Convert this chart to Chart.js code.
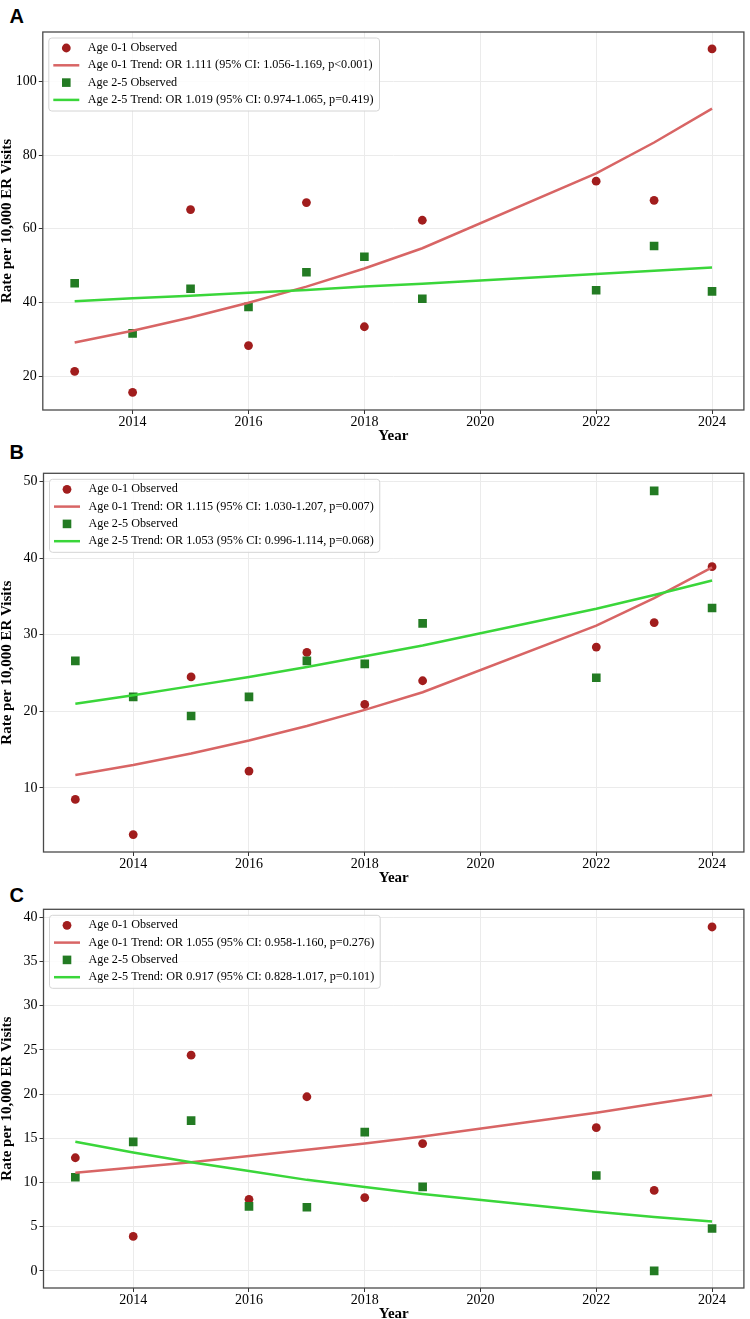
<!DOCTYPE html>
<html><head><meta charset="utf-8">
<script src="https://cdn.jsdelivr.net/npm/chart.js@4.4.1/dist/chart.umd.min.js"></script>
<style>
html,body{margin:0;padding:0;background:#fff;overflow:hidden;}
#wrap{position:relative;width:750px;height:1319px;overflow:hidden;}
canvas{position:absolute;left:0;}
.lbl{position:absolute;left:9.5px;font:bold 20px "Liberation Sans",Arial,sans-serif;line-height:20px;color:#000;}
</style></head><body>
<div id="wrap">
<div class="lbl" style="top:5.7px">A</div>
<div class="lbl" style="top:442.4px">B</div>
<div class="lbl" style="top:884.6px">C</div>
<canvas id="cA"></canvas>
<canvas id="cB"></canvas>
<canvas id="cC"></canvas>
</div>
<script>
// ---- data ----
const years = [2013, 2014, 2015, 2016, 2017, 2018, 2019, 2022, 2023, 2024];
const xTicks = [2014, 2016, 2018, 2020, 2022, 2024];
const obsLabel01 = 'Age 0-1 Observed';
const obsLabel25 = 'Age 2-5 Observed';
const yTitle = 'Rate per 10,000 ER Visits';
const xTitle = 'Year';

// Panel A
const aObs01 = [21.3, 15.6, 65.2, 28.3, 67.1, 33.4, 62.3, 72.9, 67.7, 108.8];
const aObs25 = [45.2, 31.6, 43.7, 38.8, 48.2, 52.4, 41.0, 43.3, 55.3, 43.0];
const aTrend01 = [29.1, 32.3, 35.9, 39.9, 44.3, 49.2, 54.7, 75.0, 83.4, 92.6];
const aTrend25 = [40.3, 41.1, 41.8, 42.6, 43.4, 44.3, 45.1, 47.7, 48.6, 49.5];
const aTrendLabel01 = 'Age 0-1 Trend: OR 1.111 (95% CI: 1.056-1.169, p<0.001)';
const aTrendLabel25 = 'Age 2-5 Trend: OR 1.019 (95% CI: 0.974-1.065, p=0.419)';
const aYTicks = [20, 40, 60, 80, 100];

// Panel B
const bObs01 = [8.5, 3.9, 24.5, 12.2, 27.7, 20.9, 24.0, 28.4, 31.6, 38.9];
const bObs25 = [26.6, 21.9, 19.4, 21.9, 26.6, 26.2, 31.5, 24.4, 48.8, 33.5];
const bTrend01 = [11.7, 13.0, 14.5, 16.2, 18.1, 20.2, 22.5, 31.2, 34.8, 38.8];
const bTrend25 = [21.0, 22.1, 23.3, 24.5, 25.8, 27.2, 28.6, 33.4, 35.2, 37.1];
const bTrendLabel01 = 'Age 0-1 Trend: OR 1.115 (95% CI: 1.030-1.207, p=0.007)';
const bTrendLabel25 = 'Age 2-5 Trend: OR 1.053 (95% CI: 0.996-1.114, p=0.068)';
const bYTicks = [10, 20, 30, 40, 50];

// Panel C
const cObs01 = [12.8, 3.9, 24.4, 8.1, 19.7, 8.3, 14.4, 16.2, 9.1, 38.9];
const cObs25 = [10.6, 14.6, 17.0, 7.3, 7.2, 15.7, 9.5, 10.8, 0.0, 4.8];
const cTrend01 = [11.1, 11.7, 12.3, 13.0, 13.7, 14.4, 15.2, 17.9, 18.9, 19.9];
const cTrend25 = [14.6, 13.4, 12.3, 11.3, 10.3, 9.5, 8.7, 6.7, 6.1, 5.6];
const cTrendLabel01 = 'Age 0-1 Trend: OR 1.055 (95% CI: 0.958-1.160, p=0.276)';
const cTrendLabel25 = 'Age 2-5 Trend: OR 0.917 (95% CI: 0.828-1.017, p=0.101)';
const cYTicks = [0, 5, 10, 15, 20, 25, 30, 35, 40];

// ---- styles ----
const COL_OBS01 = '#a11d1d';
const COL_TR01 = '#d86565';
const COL_OBS25 = '#237b23';
const COL_TR25 = '#3ad63a';
const SERIF = '"Liberation Serif", "Times New Roman", serif';

const pts = arr => years.map((y, i) => ({x: y, y: arr[i]}));

const insideLegend = {
  id: 'insideLegend',
  afterDatasetsDraw(chart) {
    const {ctx, chartArea: ca} = chart;
    ctx.save();
    ctx.strokeStyle = '#4a4a4a';
    ctx.lineWidth = 1.3;
    ctx.strokeRect(ca.left, ca.top, ca.right - ca.left, ca.bottom - ca.top);
    const order = chart.options.plugins.insideLegend.order;
    const ds = order.map(i => chart.data.datasets[i]);
    ctx.font = '12.2px ' + SERIF;
    const tx = ca.left + 45;
    const maxW = Math.max(...ds.map(d => ctx.measureText(d.label).width));
    const bx = ca.left + 6, by = ca.top + 6;
    const bw = tx + maxW + 6 - bx, bh = 73;
    ctx.beginPath();
    ctx.roundRect(bx, by, bw, bh, 3);
    ctx.fillStyle = 'rgba(255,255,255,0.85)';
    ctx.fill();
    ctx.strokeStyle = '#d4d4d4';
    ctx.lineWidth = 1;
    ctx.stroke();
    ds.forEach((d, k) => {
      const y = ca.top + 16 + k * 17.3;
      const mx = ca.left + 23.5;
      if (d.showLine === false) {
        ctx.fillStyle = d.backgroundColor;
        if (d.pointStyle === 'rect') {
          ctx.fillRect(mx - 4.3, y - 4.3, 8.6, 8.6);
        } else {
          ctx.beginPath();
          ctx.arc(mx, y, 4.4, 0, Math.PI * 2);
          ctx.fill();
        }
      } else {
        ctx.strokeStyle = d.borderColor;
        ctx.lineWidth = 2.5;
        ctx.beginPath();
        ctx.moveTo(ca.left + 10.5, y);
        ctx.lineTo(ca.left + 36.5, y);
        ctx.stroke();
      }
      ctx.fillStyle = '#000';
      ctx.textBaseline = 'middle';
      ctx.textAlign = 'left';
      ctx.fillText(d.label, tx, y);
    });
    ctx.restore();
  }
};

function makePanel(id, P) {
  const cv = document.getElementById(id);
  cv.width = 750; cv.height = P.height;
  cv.style.top = P.top + 'px';
  cv.style.width = '750px'; cv.style.height = P.height + 'px';
  const tickFont = {family: SERIF, size: 14, lineHeight: 1};
  const titleFont = {family: SERIF, size: 15, weight: 'bold'};
  new Chart(cv, {
    type: 'line',
    data: {
      datasets: [
        {label: obsLabel01, data: pts(P.obs01), showLine: false, pointStyle: 'circle', pointRadius: 4.4,
         backgroundColor: COL_OBS01, borderColor: COL_OBS01, borderWidth: 0, order: 3},
        {label: obsLabel25, data: pts(P.obs25), showLine: false, pointStyle: 'rect', pointRadius: 6.1,
         backgroundColor: COL_OBS25, borderColor: COL_OBS25, borderWidth: 0, order: 2},
        {label: P.trLab01, data: pts(P.tr01), borderColor: COL_TR01, borderWidth: 2.5, pointRadius: 0, tension: 0, fill: false, order: 1},
        {label: P.trLab25, data: pts(P.tr25), borderColor: COL_TR25, borderWidth: 2.5, pointRadius: 0, tension: 0, fill: false, order: 0}
      ]
    },
    options: {
      responsive: false, animation: false, events: [],
      layout: {padding: {top: P.padTop, right: P.padRight, left: 0, bottom: 0}},
      plugins: {legend: {display: false}, tooltip: {enabled: false}, insideLegend: {order: [0, 2, 1, 3]}},
      scales: {
        x: {
          type: 'linear', min: 2012.45, max: 2024.55,
          afterFit(s) { s.height = 35; },
          afterBuildTicks(s) { s.ticks = xTicks.map(v => ({value: v})); },
          ticks: {callback: v => String(v), color: '#000', font: tickFont, padding: 1, maxRotation: 0, autoSkip: false},
          grid: {color: '#ebebeb', lineWidth: 1, tickLength: 4, tickColor: '#333', tickWidth: 1, drawTicks: true},
          border: {display: false},
          title: {display: true, text: xTitle, color: '#000', font: {...titleFont, lineHeight: 1.2}, padding: {top: 0, bottom: 0}}
        },
        y: {
          type: 'linear', min: P.yMin, max: P.yMax,
          afterFit(s) { s.width = P.yW; },
          afterBuildTicks(s) { s.ticks = P.yTicks.map(v => ({value: v})); },
          ticks: {callback: v => String(v), color: '#000', font: {family: SERIF, size: 14}, padding: 2, autoSkip: false},
          grid: {color: '#ebebeb', lineWidth: 1, tickLength: 4, tickColor: '#333', tickWidth: 1, drawTicks: true},
          border: {display: false},
          title: {display: true, text: yTitle, color: '#000', font: {...titleFont, lineHeight: 1}, padding: {top: 0, bottom: 0}}
        }
      }
    },
    plugins: [insideLegend]
  });
}

makePanel('cA', {top: 2, height: 443, padTop: 30, padRight: 4, yW: 42.8, yMin: 10.8, yMax: 113.4, yTicks: aYTicks,
  obs01: aObs01, obs25: aObs25, tr01: aTrend01, tr25: aTrend25, trLab01: aTrendLabel01, trLab25: aTrendLabel25});
makePanel('cB', {top: 443, height: 444, padTop: 30.3, padRight: 1.5, yW: 43.5, yMin: 1.63, yMax: 51.1, yTicks: bYTicks,
  obs01: bObs01, obs25: bObs25, tr01: bTrend01, tr25: bTrend25, trLab01: bTrendLabel01, trLab25: bTrendLabel25});
makePanel('cC', {top: 879, height: 444, padTop: 30.3, padRight: 1.5, yW: 43.5, yMin: -1.93, yMax: 40.9, yTicks: cYTicks,
  obs01: cObs01, obs25: cObs25, tr01: cTrend01, tr25: cTrend25, trLab01: cTrendLabel01, trLab25: cTrendLabel25});
</script>
</body></html>
